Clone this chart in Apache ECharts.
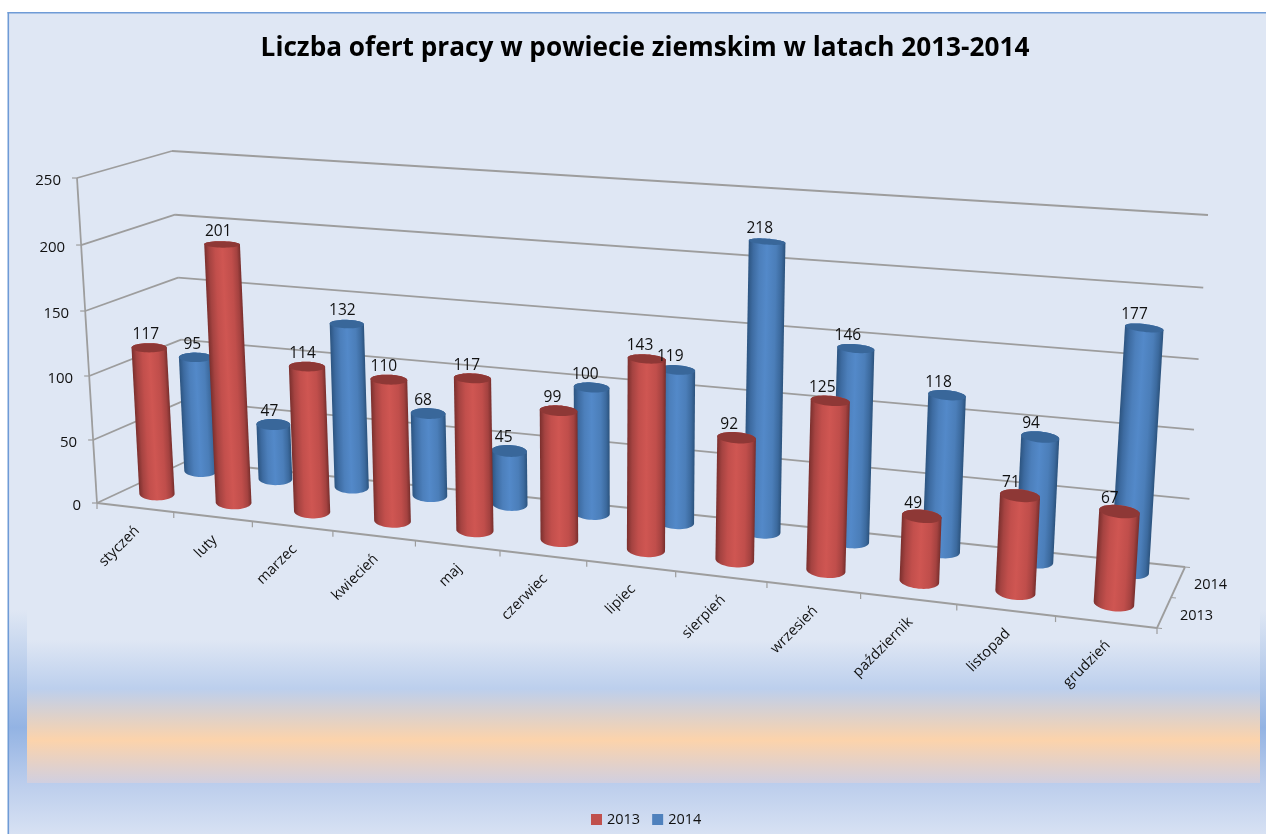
<!DOCTYPE html>
<html>
<head>
<meta charset="utf-8">
<style>html,body{margin:0;padding:0;background:#fff}#c{width:1266px;height:834px}</style>
<script src="https://cdn.jsdelivr.net/npm/echarts@6/dist/echarts.min.js"></script>
</head>
<body>
<div id="c"></div>
<script>
const titleText = 'Liczba ofert pracy w powiecie ziemskim w latach 2013-2014';
const categories = ['styczeń','luty','marzec','kwiecień','maj','czerwiec','lipiec','sierpień','wrzesień','październik','listopad','grudzień'];
const values2013 = [117,201,114,110,117,99,143,92,125,49,71,67];
const values2014 = [95,47,132,68,45,100,119,218,146,118,94,177];
const valueTicks = [0,50,100,150,200,250];
const depthLabels = ['2013','2014'];
const seriesNames = ['2013','2014'];

const FONT = '"Open Sans", sans-serif';
const GRID = {left:97, top:178, width:1060, height:325};

function quadMap(q){
  const [x0,y0]=q[0],[x1,y1]=q[1],[x2,y2]=q[2],[x3,y3]=q[3];
  const sx=x0-x1+x2-x3, sy=y0-y1+y2-y3, dx1=x1-x2, dx2=x3-x2, dy1=y1-y2, dy2=y3-y2;
  const den=dx1*dy2-dx2*dy1, g=(sx*dy2-dx2*sy)/den, h=(dx1*sy-sx*dy1)/den;
  const a=x1-x0+g*x1, b=x3-x0+h*x3, d=y1-y0+g*y1, e=y3-y0+h*y3;
  return (s,t)=>{const w=g*s+h*t+1; return [(a*s+b*t+x0)/w,(d*s+e*t+y0)/w];};
}
const frontPlane = quadMap([[97,503],[1157,628],[1182,258],[77,178]]);
const backPlane  = quadMap([[187,461],[1185,567],[1208,215],[172,151]]);
function warp(s0,t,z){
  const s=s0-0.0132*s0*(1-s0);
  const f=frontPlane(s,t), b=backPlane(s,t);
  return [f[0]+(b[0]-f[0])*z, f[1]+(b[1]-f[1])*z];
}
// Turn an axis-scale position (category, value) into the tilted chart space
function project(api,params,i,offset,v,z){
  const cs=params.coordSys, c=api.coord([i,v]), band=api.size([1,0])[0];
  const s=(c[0]+offset*band-cs.x)/cs.width, t=(cs.y+cs.height-c[1])/cs.height;
  return warp(s,t,z);
}
function edge(p,q,w){
  return {type:'line',shape:{x1:p[0],y1:p[1],x2:q[0],y2:q[1]},
    style:{stroke:'#9d9d9d',lineWidth:w||1.8,opacity:1}};
}
function label(text,x,y,size,align,rot){
  return {type:'text',x:x,y:y,rotation:rot||0,z2:100,silent:true,
    style:{text:text,font:size+'px '+FONT,fill:'#111',align:align||'center',verticalAlign:'middle'}};
}

function renderWall(params,api){
  const v=api.value(1), ch=[];
  const fl=project(api,params,0,-0.5,v,0), bl=project(api,params,0,-0.5,v,1), br=project(api,params,11,0.5,v,1);
  ch.push(edge(fl,bl),edge(bl,br));
  ch.push(edge(fl,[fl[0]-5,fl[1]],1.2));
  ch.push(label(String(v),fl[0]-16,fl[1]+2.5,15,'right'));
  if(v===0){
    const fr=project(api,params,11,0.5,0,0), top=project(api,params,0,-0.5,250,0);
    ch.push(edge(fl,fr,2.2),edge(fl,top),edge(fr,br));
    [0,0.5,1].forEach(z=>{const p=project(api,params,11,0.5,0,z); ch.push(edge(p,[p[0]+5,p[1]+0.5],1.2));});
    depthLabels.forEach((d,k)=>{
      const p=project(api,params,11,0.5,0,0.25+k*0.5);
      ch.push(label(d,p[0]+16,p[1]+3,14.5,'left'));
    });
  }
  return {type:'group',children:ch};
}
function renderCategory(params,api){
  const i=api.value(0);
  const t0=project(api,params,i,-0.5,0,0), c=project(api,params,i,0,0,0), ch=[];
  ch.push(edge(t0,[t0[0],t0[1]+6],1.2));
  if(i===categories.length-1){const t1=project(api,params,i,0.5,0,0); ch.push(edge(t1,[t1[0],t1[1]+6],1.2));}
  ch.push(label(categories[i],c[0]+2,c[1]+21,14.6,'right',Math.PI/4));
  return {type:'group',children:ch};
}
function makeCylinder(stops,capColor,depth,baseRx,floorLift){
  return function(params,api){
    const i=api.value(0), v=api.value(1);
    const b=project(api,params,i,0,floorLift,depth), t=project(api,params,i,0,v,depth);
    t[1]-=1;
    const u=(i+0.5)/categories.length, rx=baseRx+3*u;
    const ang=u*7*Math.PI/180, ca=Math.cos(ang), sa=Math.sin(ang);
    const ryTop=rx*(0.38-0.001*v), ryBot=rx*0.38;
    const pt=(c,ry,a)=>[c[0]+rx*Math.cos(a)*ca-ry*Math.sin(a)*sa, c[1]+rx*Math.cos(a)*sa+ry*Math.sin(a)*ca];
    const pts=[], cap=[];
    for(let k=0;k<=24;k++) pts.push(pt(b,ryBot,Math.PI*k/24));
    for(let k=0;k<=24;k++) pts.push(pt(t,ryTop,Math.PI+Math.PI*k/24));
    for(let k=0;k<48;k++) cap.push(pt(t,ryTop,2*Math.PI*k/48));
    const mx=(b[0]+t[0])/2,my=(b[1]+t[1])/2, dx=t[0]-b[0],dy=t[1]-b[1],L=Math.hypot(dx,dy)||1;
    const nx=dy/L*rx, ny=-dx/L*rx;
    const grad=new echarts.graphic.LinearGradient(mx+nx,my+ny,mx-nx,my-ny,stops,true);
    return {type:'group',children:[
      {type:'polygon',shape:{points:pts},style:{fill:grad}},
      {type:'polygon',shape:{points:cap},style:{fill:capColor}},
      label(String(v),t[0]-3-7*u,t[1]-13,15.5,'center')
    ]};
  };
}
const redStops=[{offset:0,color:'#7a2f2d'},{offset:0.13,color:'#a54341'},{offset:0.3,color:'#c24f4c'},{offset:0.5,color:'#cf5652'},{offset:0.75,color:'#c04e4b'},{offset:0.9,color:'#a44240'},{offset:1,color:'#772e2c'}];
const blueStops=[{offset:0,color:'#2c5480'},{offset:0.13,color:'#3d6ba1'},{offset:0.3,color:'#4c7fbb'},{offset:0.5,color:'#5389c9'},{offset:0.75,color:'#4b7eb9'},{offset:0.9,color:'#3c6a9e'},{offset:1,color:'#2b527c'}];

function vGrad(stops){return new echarts.graphic.LinearGradient(0,0,0,1,stops);}
const option={
  animation:false,
  backgroundColor:'#fff',
  title:{text:titleText,left:640,top:31,textAlign:'center',
    textStyle:{fontFamily:FONT,fontWeight:'bold',fontSize:26.2,color:'#000'}},
  legend:{data:seriesNames,left:586,top:807,icon:'rect',itemWidth:11,itemHeight:11,itemGap:12,
    textStyle:{fontFamily:FONT,fontSize:14.5,color:'#111',padding:[4,0,0,0]}},
  grid:GRID,
  xAxis:{type:'category',data:categories,show:false},
  yAxis:{type:'value',min:0,max:250,interval:50,show:false},
  graphic:[
    {type:'rect',z:-10,shape:{x:8,y:12,width:1258,height:822},style:{fill:'#dfe7f4'}},
    {type:'rect',z:-9,shape:{x:9,y:610,width:18,height:173},style:{fill:vGrad([{offset:0,color:'#dfe7f4'},{offset:0.68,color:'#93b3e3'},{offset:1,color:'#bbcdec'}])}},
    {type:'rect',z:-9,shape:{x:1260,y:610,width:6,height:173},style:{fill:vGrad([{offset:0,color:'#dfe7f4'},{offset:0.68,color:'#93b3e3'},{offset:1,color:'#bbcdec'}])}},
    {type:'rect',z:-9,shape:{x:27,y:640,width:1233,height:143},style:{fill:vGrad([{offset:0,color:'#dfe7f4'},{offset:0.34,color:'#bccfed'},{offset:0.7,color:'#fcd3ab'},{offset:1,color:'#d0cfe0'}])}},
    {type:'rect',z:-9,shape:{x:9,y:783,width:1257,height:51},style:{fill:vGrad([{offset:0,color:'#bbcdec'},{offset:1,color:'#d7e1f3'}])}},
    {type:'rect',z:-8,shape:{x:7.5,y:12,width:1.6,height:822},style:{fill:'#6f9bd6'}},
    {type:'rect',z:-8,shape:{x:7.5,y:12,width:1259,height:1.6},style:{fill:'#6f9bd6'}}
  ],
  series:[
    {type:'custom',name:'frame',coordinateSystem:'cartesian2d',z:1,silent:true,
     data:valueTicks.map(v=>[0,v]),encode:{x:0,y:1},renderItem:renderWall},
    {type:'custom',name:'categories',coordinateSystem:'cartesian2d',z:1,silent:true,
     data:categories.map((c,i)=>[i,0]),encode:{x:0,y:1},renderItem:renderCategory},
    {type:'custom',name:seriesNames[1],coordinateSystem:'cartesian2d',z:2,itemStyle:{color:'#4f81bd'},
     data:values2014.map((v,i)=>[i,v]),encode:{x:0,y:1},renderItem:makeCylinder(blueStops,'#39679a',0.75,16.5,4)},
    {type:'custom',name:seriesNames[0],coordinateSystem:'cartesian2d',z:2,itemStyle:{color:'#c0504d'},
     data:values2013.map((v,i)=>[i,v]),encode:{x:0,y:1},renderItem:makeCylinder(redStops,'#8e3836',0.25,17.5,2.5)}
  ]
};
echarts.init(document.getElementById('c')).setOption(option);
</script>
</body>
</html>
